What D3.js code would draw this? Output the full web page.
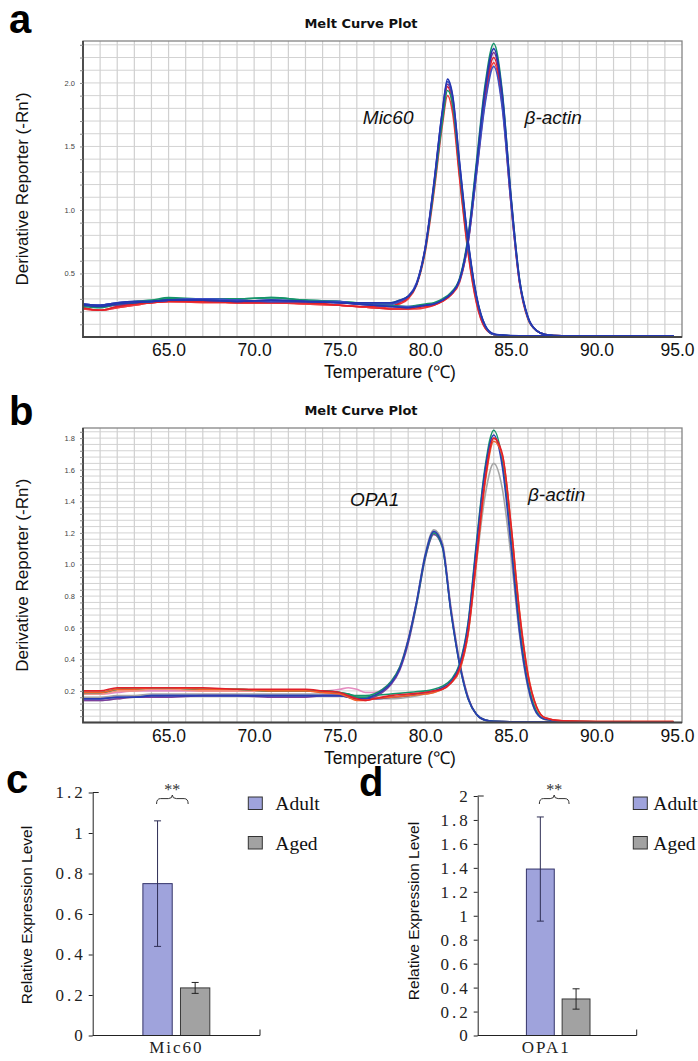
<!DOCTYPE html>
<html lang="en">
<head>
<meta charset="utf-8">
<title>Melt curves and relative expression</title>
<script src="https://cdnjs.cloudflare.com/ajax/libs/d3/7.8.5/d3.min.js"></script>
<style>
  body { margin: 0; background: #fff; }
  svg { display: block; font-family: "Liberation Sans", Arial, sans-serif; }
</style>
</head>
<body>
<svg id="fig" width="698" height="1061"></svg>
<script>
// ---------- panel a : Mic60 / beta-actin melt curves ----------
var tempsMic60 = [60, 61, 62, 63, 64, 65, 67, 69, 71, 73, 75, 76, 77, 78, 78.5, 79, 79.5, 80, 80.5, 81, 81.3, 81.6, 82, 82.5, 83, 83.5, 84, 84.5, 85, 86, 88, 90, 92, 94.5];
var mic60Blue   = [0.25,0.24,0.26,0.27,0.28,0.29,0.29,0.28,0.29,0.28,0.27,0.27,0.27,0.27,0.29,0.32,0.42,0.70,1.20,1.78,2.03,1.90,1.38,0.76,0.32,0.09,0.025,0.015,0.012,0.01,0.01,0.01,0.01,0.01];
var mic60Blue2  = [0.26,0.25,0.27,0.28,0.28,0.29,0.30,0.29,0.28,0.28,0.28,0.26,0.26,0.26,0.28,0.32,0.43,0.71,1.21,1.78,2.01,1.89,1.37,0.75,0.31,0.09,0.02,0.015,0.01,0.01,0.01,0.01,0.01,0.01];
var mic60Green  = [0.24,0.23,0.26,0.28,0.29,0.31,0.30,0.30,0.31,0.29,0.28,0.27,0.27,0.27,0.29,0.32,0.42,0.69,1.16,1.70,1.94,1.83,1.33,0.74,0.31,0.09,0.02,0.015,0.01,0.01,0.01,0.01,0.01,0.01];
var mic60Red    = [0.23,0.21,0.24,0.26,0.27,0.28,0.28,0.27,0.27,0.27,0.25,0.24,0.24,0.24,0.27,0.31,0.42,0.70,1.18,1.74,1.97,1.82,1.28,0.68,0.27,0.07,0.02,0.01,0.01,0.01,0.01,0.01,0.01,0.01];
var mic60Red2   = [0.22,0.21,0.23,0.25,0.27,0.28,0.28,0.27,0.27,0.26,0.25,0.24,0.23,0.24,0.26,0.30,0.41,0.67,1.13,1.67,1.90,1.76,1.25,0.66,0.26,0.07,0.02,0.01,0.01,0.01,0.01,0.01,0.01,0.01];
var mic60Purple = [0.25,0.24,0.25,0.27,0.28,0.29,0.29,0.28,0.28,0.28,0.27,0.26,0.26,0.26,0.28,0.32,0.42,0.70,1.19,1.76,1.99,1.86,1.34,0.73,0.30,0.08,0.02,0.015,0.01,0.01,0.01,0.01,0.01,0.01];

var tempsActinA = [60, 61, 62, 63, 64, 65, 67, 69, 71, 73, 75, 76, 77, 78, 79, 79.5, 80, 80.5, 81, 81.5, 82, 82.5, 83, 83.5, 84, 84.5, 85, 85.5, 86, 86.5, 87, 88, 90, 92, 94.5];
var actinAGreen  = [0.25,0.24,0.26,0.27,0.28,0.30,0.30,0.30,0.31,0.29,0.28,0.27,0.26,0.25,0.24,0.25,0.26,0.27,0.30,0.35,0.46,0.79,1.39,1.99,2.31,1.93,1.12,0.46,0.15,0.05,0.02,0.01,0.01,0.01,0.01];
var actinABlue   = [0.26,0.25,0.27,0.28,0.28,0.29,0.29,0.28,0.29,0.28,0.27,0.26,0.25,0.24,0.23,0.24,0.25,0.26,0.29,0.34,0.45,0.77,1.36,1.96,2.27,1.91,1.12,0.46,0.16,0.05,0.02,0.01,0.01,0.01,0.01];
var actinAPurple = [0.25,0.25,0.26,0.27,0.28,0.29,0.29,0.29,0.28,0.28,0.27,0.26,0.25,0.24,0.23,0.24,0.25,0.26,0.29,0.34,0.45,0.77,1.35,1.93,2.24,1.88,1.10,0.45,0.15,0.05,0.02,0.01,0.01,0.01,0.01];
var actinARed    = [0.23,0.21,0.24,0.26,0.27,0.28,0.28,0.27,0.27,0.27,0.25,0.24,0.23,0.22,0.22,0.23,0.24,0.25,0.28,0.33,0.44,0.75,1.32,1.90,2.20,1.85,1.08,0.44,0.15,0.05,0.02,0.01,0.01,0.01,0.01];
var actinARed2   = [0.22,0.21,0.23,0.25,0.27,0.28,0.27,0.27,0.27,0.26,0.25,0.24,0.23,0.22,0.22,0.22,0.23,0.25,0.28,0.33,0.43,0.74,1.30,1.86,2.16,1.82,1.06,0.43,0.14,0.05,0.02,0.01,0.01,0.01,0.01];
var actinABlue2  = [0.26,0.25,0.27,0.28,0.28,0.29,0.30,0.29,0.28,0.28,0.28,0.26,0.25,0.24,0.24,0.24,0.25,0.26,0.29,0.34,0.44,0.74,1.29,1.84,2.13,1.80,1.06,0.44,0.15,0.05,0.02,0.01,0.01,0.01,0.01];

// ---------- panel b : OPA1 / beta-actin melt curves ----------
var tempsOpa1 = [60, 61, 62, 63, 64, 65, 67, 69, 71, 73, 74, 75, 75.5, 76, 76.5, 77, 77.5, 78, 78.5, 79, 79.5, 80, 80.5, 81, 81.5, 82, 82.5, 83, 83.5, 84, 85, 87, 90, 92, 94.5];
var opa1Blue   = [0.15,0.15,0.16,0.16,0.17,0.17,0.17,0.17,0.17,0.17,0.17,0.17,0.16,0.15,0.15,0.17,0.20,0.25,0.34,0.52,0.77,1.06,1.21,1.12,0.70,0.37,0.15,0.05,0.015,0.008,0.005,0.005,0.005,0.005,0.005];
var opa1Green  = [0.19,0.19,0.21,0.21,0.22,0.22,0.21,0.21,0.20,0.20,0.20,0.19,0.18,0.17,0.17,0.18,0.21,0.26,0.35,0.52,0.76,1.05,1.20,1.11,0.70,0.37,0.15,0.05,0.015,0.008,0.005,0.005,0.005,0.005,0.005];
var opa1Purple = [0.14,0.14,0.15,0.16,0.16,0.16,0.17,0.17,0.16,0.16,0.17,0.17,0.17,0.16,0.15,0.16,0.19,0.24,0.33,0.50,0.75,1.04,1.19,1.11,0.71,0.38,0.16,0.05,0.015,0.008,0.005,0.005,0.005,0.005,0.005];
var opa1Grey   = [0.16,0.16,0.17,0.17,0.18,0.18,0.18,0.18,0.18,0.18,0.18,0.18,0.17,0.16,0.16,0.17,0.20,0.25,0.34,0.52,0.77,1.07,1.22,1.14,0.73,0.39,0.16,0.05,0.015,0.008,0.005,0.005,0.005,0.005,0.005];
var opa1Pink   = [0.18,0.18,0.19,0.20,0.20,0.20,0.20,0.20,0.20,0.20,0.20,0.21,0.22,0.21,0.19,0.19,0.21,0.26,0.35,0.53,0.77,1.05,1.20,1.12,0.72,0.38,0.16,0.05,0.015,0.008,0.005,0.005,0.005,0.005,0.005];

var tempsActinB = [60, 61, 62, 63, 64, 65, 67, 69, 71, 73, 74, 75, 75.5, 76, 76.5, 77, 78, 79, 80, 80.5, 81, 81.5, 82, 82.5, 83, 83.5, 84, 84.5, 85, 85.5, 86, 86.5, 87, 88, 90, 92, 94.5];
var actinBGreen  = [0.19,0.19,0.21,0.22,0.22,0.22,0.21,0.21,0.20,0.20,0.20,0.19,0.18,0.16,0.16,0.17,0.18,0.19,0.20,0.21,0.23,0.27,0.37,0.63,1.15,1.62,1.85,1.66,1.18,0.62,0.25,0.07,0.02,0.008,0.005,0.005,0.005];
var actinBBlue   = [0.15,0.15,0.16,0.16,0.17,0.17,0.17,0.17,0.17,0.17,0.17,0.17,0.16,0.15,0.15,0.15,0.16,0.17,0.19,0.20,0.22,0.26,0.36,0.62,1.13,1.60,1.82,1.62,1.13,0.58,0.23,0.06,0.02,0.008,0.005,0.005,0.005];
var actinBRed    = [0.20,0.20,0.22,0.22,0.22,0.22,0.22,0.21,0.21,0.21,0.20,0.19,0.17,0.15,0.14,0.15,0.17,0.18,0.19,0.20,0.21,0.25,0.34,0.57,1.05,1.54,1.80,1.70,1.26,0.70,0.30,0.10,0.03,0.01,0.006,0.006,0.006];
var actinBOrange = [0.19,0.19,0.21,0.21,0.22,0.22,0.21,0.21,0.20,0.20,0.19,0.18,0.16,0.14,0.14,0.15,0.16,0.17,0.18,0.19,0.21,0.25,0.33,0.56,1.03,1.52,1.78,1.69,1.26,0.71,0.31,0.10,0.03,0.01,0.006,0.006,0.006];
var actinBSalmon = [0.18,0.18,0.20,0.20,0.21,0.21,0.20,0.20,0.20,0.20,0.19,0.18,0.17,0.16,0.15,0.16,0.16,0.17,0.19,0.20,0.22,0.26,0.35,0.60,1.10,1.58,1.80,1.66,1.20,0.65,0.27,0.08,0.02,0.01,0.006,0.006,0.006];
var actinBGrey   = [0.14,0.14,0.15,0.16,0.16,0.17,0.17,0.17,0.17,0.17,0.17,0.17,0.16,0.15,0.15,0.15,0.15,0.16,0.18,0.19,0.21,0.25,0.33,0.56,1.02,1.44,1.64,1.48,1.06,0.56,0.22,0.06,0.02,0.008,0.005,0.005,0.005];

var meltXTicks = [65, 70, 75, 80, 85, 90, 95];

// ---------- panels c, d : relative expression ----------
var groups = ["Adult", "Aged"];
var mic60Means = [0.75, 0.235];
var mic60Errors = [0.31, 0.027];
var opa1Means = [1.39, 0.305];
var opa1Errors = [0.435, 0.085];

var svg = d3.select("#fig");
svg.append("rect").attr("width", 698).attr("height", 1061).attr("fill", "#fff");

function meltPlot(cfg) {
  var x = d3.scaleLinear().domain([60, 95]).range([83, 682]);
  var y = d3.scaleLinear().domain([0, cfg.yMax]).range([cfg.bottom, cfg.top]);
  var g = svg.append("g");

  var nH = Math.floor(cfg.yMax / cfg.gridStep + 1e-6);
  var hVals = d3.range(1, nH + 1).map(function (i) { return +(i * cfg.gridStep).toFixed(3); });
  var vVals = d3.range(61, 95);

  // grid
  g.selectAll("line.hg").data(hVals).enter().append("line")
    .attr("x1", 83).attr("x2", 682)
    .attr("y1", function (d) { return y(d); }).attr("y2", function (d) { return y(d); })
    .attr("stroke", "#d3d3d3").attr("stroke-width", 1);
  g.selectAll("line.vg").data(vVals).enter().append("line")
    .attr("y1", cfg.top).attr("y2", cfg.bottom)
    .attr("x1", function (d) { return x(d); }).attr("x2", function (d) { return x(d); })
    .attr("stroke", "#d0d0d0").attr("stroke-width", 1.2);

  // curves
  var line = d3.line()
    .x(function (d) { return x(d[0]); })
    .y(function (d) { return y(d[1]); })
    .curve(d3.curveMonotoneX);
  cfg.series.forEach(function (s) {
    g.append("path")
      .datum(d3.zip(s.t, s.v))
      .attr("d", line)
      .attr("fill", "none")
      .attr("stroke", s.c)
      .attr("stroke-width", 1.6)
      .attr("stroke-linejoin", "round");
  });

  // frame
  g.append("rect").attr("x", 83).attr("y", cfg.top)
    .attr("width", 599).attr("height", cfg.bottom - cfg.top)
    .attr("fill", "none").attr("stroke", "#858585").attr("stroke-width", 1.3);
  g.append("path")
    .attr("d", "M83," + cfg.top + "V" + cfg.bottom + "H682")
    .attr("fill", "none").attr("stroke", "#444").attr("stroke-width", 1.8);

  // axes
  var yAxis = d3.axisLeft(y).tickValues(hVals).tickSize(3).tickPadding(5)
    .tickFormat(function (d) {
      var r = d / cfg.labelStep;
      return Math.abs(r - Math.round(r)) < 1e-6 ? d.toFixed(1) : "";
    });
  g.append("g").attr("transform", "translate(83,0)").call(yAxis)
    .call(function (a) { a.select(".domain").remove(); })
    .call(function (a) { a.selectAll("line").attr("stroke", "#888"); })
    .call(function (a) {
      a.selectAll("text").attr("font-size", 7.5).attr("fill", "#444")
        .attr("font-family", "Liberation Sans, Arial, sans-serif");
    });

  var xAxis = d3.axisBottom(x).tickValues(meltXTicks).tickSize(0).tickPadding(7)
    .tickFormat(d3.format(".1f"));
  g.append("g").attr("transform", "translate(0," + cfg.bottom + ")").call(xAxis)
    .call(function (a) { a.select(".domain").remove(); })
    .call(function (a) {
      a.selectAll("text").attr("font-size", 17.5).attr("fill", "#111")
        .attr("font-family", "Liberation Sans, Arial, sans-serif")
        .attr("dx", function (d) { return d === 95 ? -5 : 0; });
    });

  // titles and labels
  g.append("text").attr("x", 361).attr("y", cfg.top - 13)
    .attr("text-anchor", "middle").attr("font-family", "DejaVu Sans, Verdana, sans-serif")
    .attr("font-weight", "bold").attr("font-size", 13).attr("fill", "#111")
    .text("Melt Curve Plot");
  g.append("text").attr("x", 390).attr("y", cfg.bottom + 41)
    .attr("text-anchor", "middle").attr("font-size", 17.5).attr("fill", "#111")
    .text("Temperature (\u2103)");
  g.append("text")
    .attr("transform", "translate(28," + ((cfg.top + cfg.bottom) / 2) + ") rotate(-90)")
    .attr("text-anchor", "middle").attr("font-size", 17).attr("fill", "#111")
    .text("Derivative Reporter (-Rn')");

  cfg.notes.forEach(function (n) {
    g.append("text").attr("x", x(n.t)).attr("y", y(n.v))
      .attr("font-style", "italic").attr("font-size", 19).attr("fill", "#111")
      .text(n.text);
  });

  g.append("text").attr("x", 9).attr("y", cfg.letterY)
    .attr("font-weight", "bold").attr("font-size", 40).attr("fill", "#000")
    .text(cfg.letter);
}

meltPlot({
  letter: "a", letterY: 33, top: 41, bottom: 337, yMax: 2.33, gridStep: 0.1, labelStep: 0.5,
  series: [
    { t: tempsActinA, v: actinARed2, c: "#ee3b3f" },
    { t: tempsActinA, v: actinARed, c: "#e2202a" },
    { t: tempsMic60, v: mic60Red2, c: "#ee3b3f" },
    { t: tempsMic60, v: mic60Red, c: "#e2202a" },
    { t: tempsActinA, v: actinAPurple, c: "#7b2d8e" },
    { t: tempsMic60, v: mic60Purple, c: "#7b2d8e" },
    { t: tempsActinA, v: actinAGreen, c: "#15946a" },
    { t: tempsMic60, v: mic60Green, c: "#15946a" },
    { t: tempsActinA, v: actinABlue2, c: "#3b4fc4" },
    { t: tempsMic60, v: mic60Blue2, c: "#3b4fc4" },
    { t: tempsActinA, v: actinABlue, c: "#2536b0" },
    { t: tempsMic60, v: mic60Blue, c: "#2536b0" }
  ],
  notes: [
    { t: 76.35, v: 1.68, text: "Mic60" },
    { t: 85.8, v: 1.68, text: "\u03b2-actin" }
  ]
});

meltPlot({
  letter: "b", letterY: 425, top: 428, bottom: 722.5, yMax: 1.864, gridStep: 0.04, labelStep: 0.2,
  series: [
    { t: tempsOpa1, v: opa1Grey, c: "#a5a5a5" },
    { t: tempsOpa1, v: opa1Pink, c: "#e48cc0" },
    { t: tempsActinB, v: actinBGrey, c: "#a5a5a5" },
    { t: tempsActinB, v: actinBSalmon, c: "#f3907a" },
    { t: tempsOpa1, v: opa1Purple, c: "#7b3f9e" },
    { t: tempsOpa1, v: opa1Green, c: "#15946a" },
    { t: tempsActinB, v: actinBGreen, c: "#15946a" },
    { t: tempsOpa1, v: opa1Blue, c: "#2a3db3" },
    { t: tempsActinB, v: actinBBlue, c: "#2a3db3" },
    { t: tempsActinB, v: actinBOrange, c: "#f2602a" },
    { t: tempsActinB, v: actinBRed, c: "#e2202a" }
  ],
  notes: [
    { t: 75.6, v: 1.37, text: "OPA1" },
    { t: 86.0, v: 1.40, text: "\u03b2-actin" }
  ]
});

function barPlot(cfg) {
  var y = d3.scaleLinear().domain([0, cfg.yMax]).range([1035.5, cfg.top]);
  var x = d3.scaleBand().domain([cfg.gene]).range([cfg.x0, cfg.x1]);
  var cx = x(cfg.gene) + x.bandwidth() / 2;
  var half = x.bandwidth() * 0.2;
  var xs = d3.scaleBand().domain(groups).range([cx - half + cfg.shift, cx + half + cfg.shift]).paddingInner(0.22);
  var fills = { Adult: "#9fa3dc", Aged: "#a2a2a2" };
  var strokes = { Adult: "#34346a", Aged: "#3a3a3a" };
  var g = svg.append("g");
  var rows = groups.map(function (k, i) { return { k: k, m: cfg.means[i], e: cfg.errors[i] }; });

  g.selectAll("rect.bar").data(rows).enter().append("rect")
    .attr("x", function (d) { return xs(d.k); })
    .attr("width", xs.bandwidth())
    .attr("y", function (d) { return y(d.m); })
    .attr("height", function (d) { return y(0) - y(d.m); })
    .attr("fill", function (d) { return fills[d.k]; })
    .attr("stroke", function (d) { return strokes[d.k]; })
    .attr("stroke-width", 1);

  // error bars
  rows.forEach(function (d) {
    var c = xs(d.k) + xs.bandwidth() / 2;
    var col = d.k === "Adult" ? "#2e2e55" : "#222";
    g.append("line").attr("x1", c).attr("x2", c)
      .attr("y1", y(d.m - d.e)).attr("y2", y(d.m + d.e))
      .attr("stroke", col).attr("stroke-width", 1);
    [d.m - d.e, d.m + d.e].forEach(function (v) {
      g.append("line").attr("x1", c - 3.5).attr("x2", c + 3.5)
        .attr("y1", y(v)).attr("y2", y(v))
        .attr("stroke", col).attr("stroke-width", 1);
    });
  });

  // axes
  var yAxis = d3.axisLeft(y).tickValues(d3.range(0, cfg.yMax + 1e-9, 0.2))
    .tickSizeInner(4).tickSizeOuter(0).tickPadding(3)
    .tickFormat(function (d) { return String(+d.toFixed(1)); });
  g.append("g").attr("transform", "translate(" + cfg.x0 + ",0)").call(yAxis)
    .call(function (a) { a.selectAll("line,path").attr("stroke", "#222"); })
    .call(function (a) {
      a.selectAll("text").attr("font-size", 17).attr("fill", "#222")
        .attr("font-family", "Liberation Serif, Times New Roman, serif")
        .attr("letter-spacing", 3);
    });
  g.append("line").attr("x1", cfg.x0).attr("x2", cfg.x0 + 6)
    .attr("y1", y(cfg.yMax)).attr("y2", y(cfg.yMax)).attr("stroke", "#222");
  g.append("path")
    .attr("d", "M" + cfg.x0 + "," + y(0) + "H" + cfg.x1 + "V" + (y(0) - 6))
    .attr("fill", "none").attr("stroke", "#222").attr("stroke-width", 1);

  g.append("text").attr("x", cx + cfg.labelShift).attr("y", 1053)
    .attr("text-anchor", "middle").attr("font-size", 17).attr("fill", "#222")
    .attr("font-family", "Liberation Serif, Times New Roman, serif")
    .attr("letter-spacing", 2)
    .text(cfg.gene);

  // significance brace
  var a0 = xs("Adult") + xs.bandwidth() / 2 - 1;
  var a1 = xs("Aged") + xs.bandwidth() / 2 - 7;
  var m = (a0 + a1) / 2, yb = 804, h = 9, sh = yb - h * 0.6;
  var p = d3.path();
  p.moveTo(a0, yb);
  p.quadraticCurveTo(a0, sh, a0 + 4, sh);
  p.lineTo(m - 4, sh);
  p.quadraticCurveTo(m, sh, m, yb - h);
  p.quadraticCurveTo(m, sh, m + 4, sh);
  p.lineTo(a1 - 4, sh);
  p.quadraticCurveTo(a1, sh, a1, yb);
  g.append("path").attr("d", p.toString()).attr("fill", "none")
    .attr("stroke", "#333").attr("stroke-width", 1);
  g.append("text").attr("x", m).attr("y", 795).attr("text-anchor", "middle")
    .attr("font-size", 16).attr("fill", "#333")
    .attr("font-family", "Liberation Serif, Times New Roman, serif")
    .text("**");

  // legend
  groups.forEach(function (k, i) {
    var ly = 797 + i * 39.5;
    g.append("rect").attr("x", cfg.legX).attr("y", ly).attr("width", 14).attr("height", 12.5)
      .attr("fill", fills[k]).attr("stroke", "#333").attr("stroke-width", 1);
    g.append("text").attr("x", cfg.legX + cfg.legGap).attr("y", ly + 13)
      .attr("font-size", 19.5).attr("fill", "#111")
      .attr("font-family", "Liberation Serif, Times New Roman, serif")
      .text(k);
  });

  g.append("text")
    .attr("transform", "translate(" + cfg.titleX + "," + cfg.titleY + ") rotate(-90)")
    .attr("text-anchor", "middle").attr("font-size", 15.5).attr("fill", "#111")
    .text("Relative Expression Level");

  g.append("text").attr("x", cfg.letterX).attr("y", cfg.letterY)
    .attr("font-weight", "bold").attr("font-size", 40).attr("fill", "#000")
    .text(cfg.letter);
}

barPlot({
  letter: "c", letterX: 6, letterY: 793, gene: "Mic60", means: mic60Means, errors: mic60Errors,
  yMax: 1.2, top: 792.5, x0: 92.7, x1: 260, shift: 0, labelShift: 0,
  legX: 248.3, legGap: 27, titleX: 32, titleY: 915
});
barPlot({
  letter: "d", letterX: 359, letterY: 796, gene: "OPA1", means: opa1Means, errors: opa1Errors,
  yMax: 2, top: 796, x0: 477.7, x1: 636.7, shift: 1, labelShift: -11,
  legX: 633.3, legGap: 20, titleX: 419, titleY: 911
});
</script>
</body>
</html>
